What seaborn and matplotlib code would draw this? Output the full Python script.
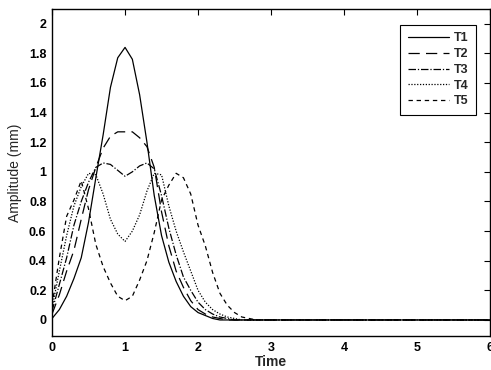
import numpy as np
import pandas as pd
import matplotlib
matplotlib.use("Agg")
import matplotlib.pyplot as plt
import seaborn as sns

# ---- data ----
time = [0.0, 0.1, 0.2, 0.3, 0.4, 0.5, 0.6, 0.7, 0.8, 0.9,
        1.0, 1.1, 1.2, 1.3, 1.4, 1.5, 1.6, 1.7, 1.8, 1.9,
        2.0, 2.1, 2.2, 2.3, 2.4, 2.5, 2.6, 2.7, 2.8, 2.9, 3.0, 6.0]

t1 = [0.01, 0.07, 0.16, 0.28, 0.42, 0.66, 0.96, 1.25, 1.57, 1.77,
      1.84, 1.76, 1.52, 1.20, 0.84, 0.57, 0.39, 0.26, 0.16, 0.09,
      0.05, 0.03, 0.01, 0.0, 0.0, 0.0, 0.0, 0.0, 0.0, 0.0, 0.0, 0.0]
t2 = [0.04, 0.17, 0.33, 0.47, 0.68, 0.88, 1.03, 1.16, 1.24, 1.27,
      1.27, 1.27, 1.23, 1.17, 1.03, 0.73, 0.50, 0.33, 0.22, 0.13,
      0.07, 0.04, 0.02, 0.01, 0.0, 0.0, 0.0, 0.0, 0.0, 0.0, 0.0, 0.0]
t3 = [0.06, 0.24, 0.42, 0.64, 0.80, 0.93, 1.03, 1.06, 1.05, 1.01,
      0.97, 1.00, 1.04, 1.06, 1.02, 0.84, 0.62, 0.44, 0.29, 0.20,
      0.12, 0.07, 0.04, 0.02, 0.01, 0.0, 0.0, 0.0, 0.0, 0.0, 0.0, 0.0]
t4 = [0.08, 0.33, 0.57, 0.77, 0.90, 0.99, 0.98, 0.85, 0.68, 0.58,
      0.53, 0.60, 0.71, 0.87, 0.99, 0.98, 0.77, 0.60, 0.46, 0.33,
      0.20, 0.12, 0.07, 0.04, 0.02, 0.01, 0.0, 0.0, 0.0, 0.0, 0.0, 0.0]
t5 = [0.10, 0.42, 0.70, 0.81, 0.94, 0.75, 0.51, 0.36, 0.25, 0.16,
      0.13, 0.16, 0.27, 0.40, 0.59, 0.81, 0.91, 0.99, 0.96, 0.85,
      0.64, 0.50, 0.32, 0.18, 0.10, 0.05, 0.02, 0.01, 0.0, 0.0, 0.0, 0.0]

series_names = ["T1", "T2", "T3", "T4", "T5"]
series_values = [t1, t2, t3, t4, t5]

x_ticks = [0, 1, 2, 3, 4, 5, 6]
y_ticks = [0, 0.2, 0.4, 0.6, 0.8, 1.0, 1.2, 1.4, 1.6, 1.8, 2.0]
y_tick_labels = ["0", "0.2", "0.4", "0.6", "0.8", "1", "1.2", "1.4", "1.6", "1.8", "2"]

# ---- styling ----
sns.set_theme(style="white")
plt.rcParams["font.family"] = ["Liberation Sans", "DejaVu Sans"]

styles = {
    "T1": "-",
    "T2": (0, (9, 5)),
    "T3": (0, (6, 1.5, 1, 1.5)),
    "T4": (0, (1, 1.3)),
    "T5": (0, (3.5, 3)),
}

fig = plt.figure(figsize=(4.91, 3.70), dpi=100)
ax = fig.add_axes([0.106, 0.092, 0.892, 0.884])

df = pd.DataFrame({"Time": time * len(series_names),
                   "Amplitude": sum(series_values, []),
                   "Series": sum([[n] * len(time) for n in series_names], [])})

for name in series_names:
    sub = df[df["Series"] == name]
    sns.lineplot(data=sub, x="Time", y="Amplitude", ax=ax, color="black",
                 linewidth=0.9, linestyle=styles[name], label=name,
                 estimator=None, sort=False)

ax.set_xlim(0, 6)
ax.set_ylim(-0.108, 2.1)
ax.set_xticks(x_ticks)
ax.set_yticks(y_ticks)
ax.set_yticklabels(y_tick_labels)
ax.tick_params(direction="in", length=4, width=0.8, top=True, right=True,
               labelsize=9, colors="black", pad=4)
for lab in ax.get_xticklabels() + ax.get_yticklabels():
    lab.set_fontweight("bold")
for sp in ax.spines.values():
    sp.set_color("black")
    sp.set_linewidth(1.0)

ax.set_xlabel("Time", fontsize=10, fontweight="bold", labelpad=1)
ax.set_ylabel("Amplitude (mm)", fontsize=10, fontweight="normal", labelpad=5)

leg = ax.legend(loc="upper right", bbox_to_anchor=(0.968, 0.951),
                borderaxespad=0, fontsize=9, frameon=True, fancybox=False,
                framealpha=1, edgecolor="black", handlelength=3.3,
                labelspacing=0.3, borderpad=0.6, handletextpad=0.4)
leg.get_frame().set_linewidth(0.8)
for txt in leg.get_texts():
    txt.set_fontweight("bold")

fig.savefig("out.png", dpi=100)
